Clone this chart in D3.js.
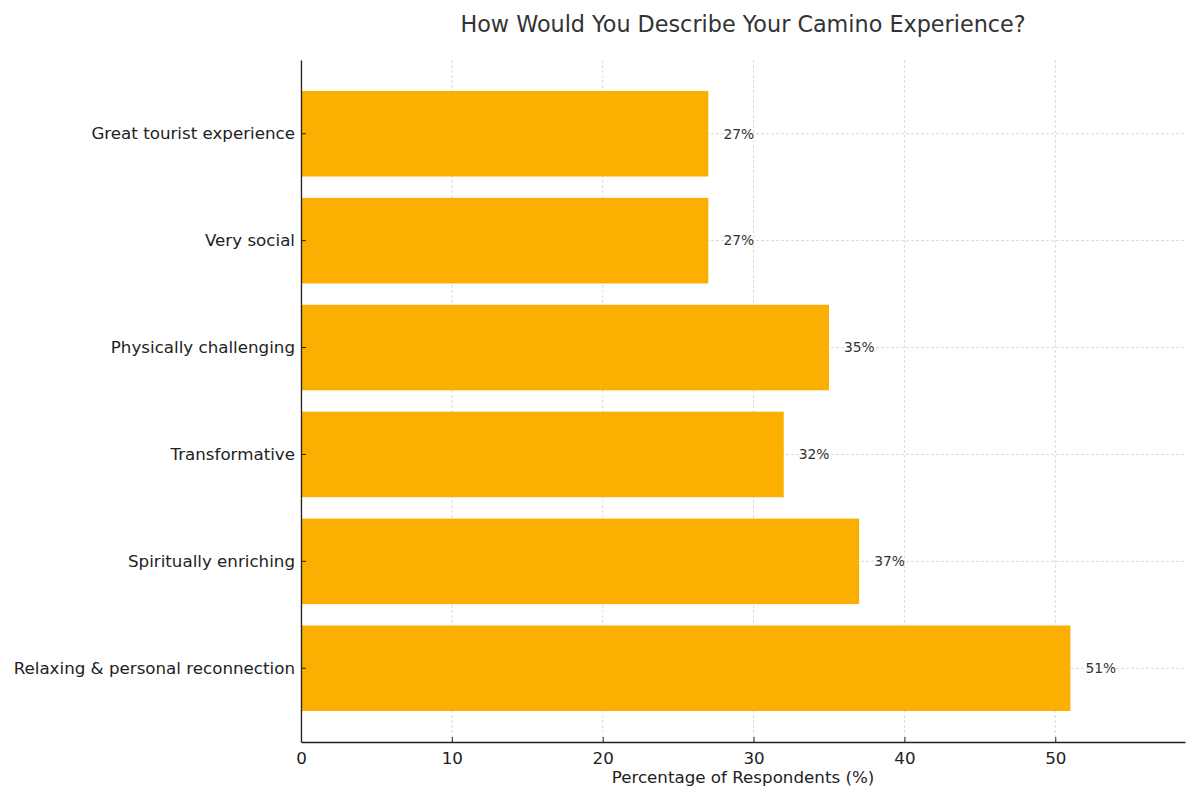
<!DOCTYPE html>
<html>
<head>
<meta charset="utf-8">
<script src="https://cdn.jsdelivr.net/npm/d3@7"></script>
<style>
  body { margin: 0; background: #fff; }
  text { font-family: "DejaVu Sans", sans-serif; }
</style>
</head>
<body>
<svg id="chart" width="1200" height="800"></svg>
<script>
const categories = ["Great tourist experience", "Very social", "Physically challenging",
    "Transformative", "Spiritually enriching", "Relaxing & personal reconnection"];
const values = [27, 27, 35, 32, 37, 51];
const xTicks = [0, 10, 20, 30, 40, 50];

const margin = {left: 301, right: 15, top: 60, bottom: 58};
const width = 1200, height = 800;

const svg = d3.select("#chart");

const x = d3.scaleLinear()
    .domain([0, 58.6])
    .range([margin.left, width - margin.right]);

const y = d3.scaleBand()
    .domain(categories)
    .range([margin.top, height - margin.bottom])
    .paddingInner(0.2)
    .paddingOuter(0.29);

// grid
const grid = svg.append("g").attr("class", "grid");
grid.selectAll("line.vx").data(xTicks).join("line")
    .attr("x1", d => x(d)).attr("x2", d => x(d))
    .attr("y1", margin.top).attr("y2", height - margin.bottom)
    .attr("stroke", "#d0d0d0").attr("stroke-width", 0.8)
    .attr("stroke-dasharray", "3,2");
grid.selectAll("line.hy").data(categories).join("line")
    .attr("x1", margin.left).attr("x2", width - margin.right)
    .attr("y1", d => y(d) + y.bandwidth() / 2).attr("y2", d => y(d) + y.bandwidth() / 2)
    .attr("stroke", "#d0d0d0").attr("stroke-width", 0.8)
    .attr("stroke-dasharray", "3,2");

// bars
svg.append("g").selectAll("rect").data(categories).join("rect")
    .attr("x", x(0))
    .attr("y", d => y(d))
    .attr("width", (d, i) => x(values[i]) - x(0))
    .attr("height", y.bandwidth())
    .attr("fill", "#fbaf00");

// value labels
svg.append("g").selectAll("text").data(categories).join("text")
    .attr("x", (d, i) => x(values[i] + 1))
    .attr("y", d => y(d) + y.bandwidth() / 2)
    .attr("dy", "0.35em")
    .attr("font-size", 13.8)
    .attr("fill", "#333")
    .text((d, i) => values[i] + "%");

// axes
const xAxis = d3.axisBottom(x).tickValues(xTicks).tickSizeInner(-5).tickSizeOuter(0).tickPadding(10);
const gx = svg.append("g")
    .attr("transform", "translate(0," + (height - margin.bottom) + ")")
    .call(xAxis);
gx.selectAll("text").attr("font-size", 16.7).attr("fill", "#222").attr("font-family", "DejaVu Sans");
gx.select(".domain").attr("stroke", "#222").attr("stroke-width", 1.3);
gx.selectAll(".tick line").attr("stroke", "#222");

const yAxis = d3.axisLeft(y).tickSizeInner(-5).tickSizeOuter(0).tickPadding(6);
const gy = svg.append("g")
    .attr("transform", "translate(" + margin.left + ",0)")
    .call(yAxis);
gy.selectAll("text").attr("font-size", 16.7).attr("fill", "#222").attr("font-family", "DejaVu Sans");
gy.select(".domain").attr("stroke", "#222").attr("stroke-width", 1.3);
gy.selectAll(".tick line").attr("stroke", "#222");

// title and axis label
svg.append("text")
    .attr("x", (x.range()[0] + x.range()[1]) / 2)
    .attr("y", 32)
    .attr("text-anchor", "middle")
    .attr("font-size", 22.3)
    .attr("fill", "#333")
    .text("How Would You Describe Your Camino Experience?");

svg.append("text")
    .attr("x", (x.range()[0] + x.range()[1]) / 2)
    .attr("y", 783)
    .attr("text-anchor", "middle")
    .attr("font-size", 16.7)
    .attr("fill", "#222")
    .text("Percentage of Respondents (%)");
</script>
</body>
</html>
